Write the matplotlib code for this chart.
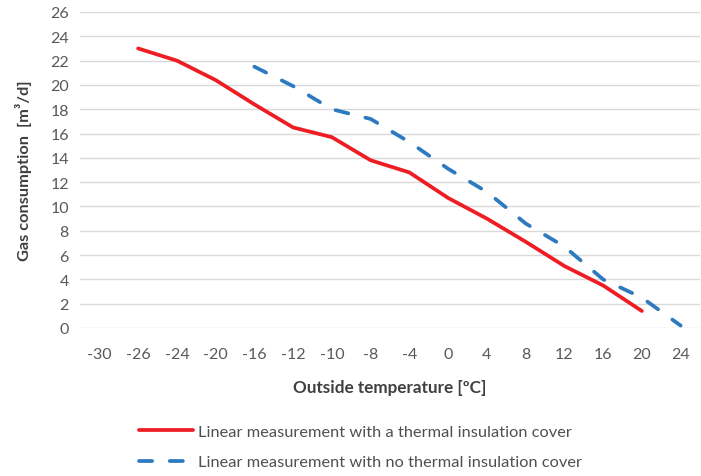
import numpy as np
import matplotlib
matplotlib.use("Agg")
from matplotlib import pyplot as plt

plt.rcParams["font.family"] = ["Lato", "DejaVu Sans"]

# category axis (equally spaced, as in the original spreadsheet chart)
temps = ["-30", "-26", "-24", "-20", "-16", "-12", "-10", "-8",
         "-4", "0", "4", "8", "12", "16", "20", "24"]

# gas consumption [m3/d], None where a series has no value
with_cover = [None, 23.0, 22.0, 20.4, 18.4, 16.5, 15.7, 13.8,
              12.8, 10.7, 9.0, 7.1, 5.1, 3.5, 1.4, None]
no_cover = [None, None, None, None, 21.5, 19.9, 18.0, 17.2,
            15.3, 13.1, 11.2, 8.6, 6.7, 4.0, 2.5, 0.2]

red = "#ee1d23"
blue = "#2e7ac0"
grey = "#595959"

fig = plt.figure(figsize=(7.01, 4.77), dpi=100)
ax = fig.add_axes([80 / 701, 148 / 477, 620 / 701, 316 / 477])

x = np.arange(len(temps))
y1 = np.array([np.nan if v is None else v for v in with_cover])
y2 = np.array([np.nan if v is None else v for v in no_cover])

ax.plot(x, y1, color=red, lw=2.7, solid_capstyle="round", solid_joinstyle="round",
        label="Linear measurement with a thermal insulation cover")
ax.plot(x, y2, color=blue, lw=2.7, dashes=(3.5, 4.7), dash_capstyle="round",
        label="Linear measurement with no thermal insulation cover")

ax.set_xlim(-0.5, len(temps) - 0.5)
ax.set_ylim(0, 26)
ax.set_yticks(np.arange(0, 27, 2))
ax.set_xticks(x)
ax.set_xticklabels(temps)
ax.grid(axis="y", color="#d9d9d9", lw=1)
ax.set_axisbelow(True)
for s in ax.spines.values():
    s.set_visible(False)
ax.tick_params(length=0, labelsize=11.5, colors=grey, pad=8)
ax.tick_params(axis="x", pad=14)

ax.set_xlabel("Outside temperature [ºC]", fontsize=12.3, fontweight="bold",
              color="#404040", labelpad=13)
ax.set_ylabel("Gas consumption  [m³/d]", fontsize=11.8, fontweight="bold",
              color="#404040", labelpad=13)

fig.legend(loc="center", bbox_to_anchor=(360 / 701, 1 - 448 / 477), frameon=False,
           fontsize=11.8, labelcolor="#505050", handlelength=3.3, handletextpad=0.3,
           labelspacing=0.95)

plt.savefig("out.png", dpi=100)
